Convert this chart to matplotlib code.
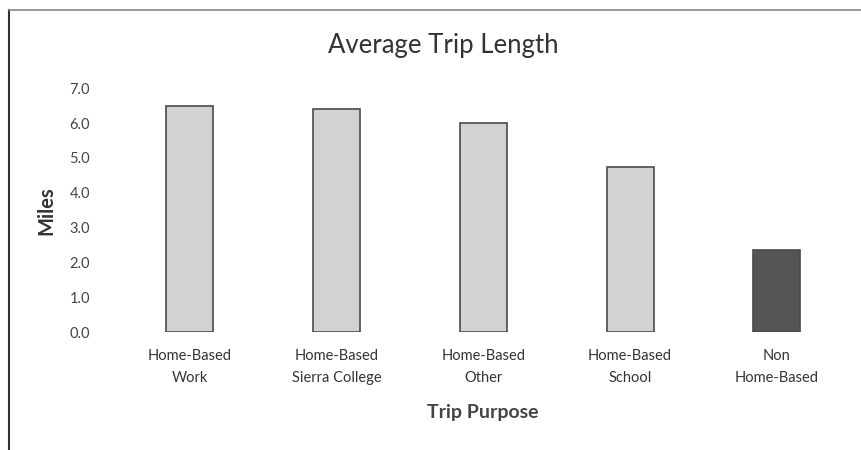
import matplotlib
matplotlib.use('Agg')
import matplotlib.pyplot as plt
from matplotlib.lines import Line2D
import numpy as np

plt.rcParams['font.family'] = ['Lato', 'DejaVu Sans']

# data
purposes = ['Home-Based\nWork', 'Home-Based\nSierra College', 'Home-Based\nOther',
            'Home-Based\nSchool', 'Non\nHome-Based']
miles = [6.5, 6.4, 6.0, 4.75, 2.35]
bar_colors = ['#d2d2d2', '#d2d2d2', '#d2d2d2', '#d2d2d2', '#555555']
yticks = [0, 1, 2, 3, 4, 5, 6, 7]

fig = plt.figure(figsize=(8.61, 4.5), dpi=100)
ax = fig.add_axes([0.135, 0.262, 0.8525, 0.542])

x = np.arange(len(purposes))
ax.bar(x, miles, width=0.32, color=bar_colors, edgecolor='#4a4a4a', linewidth=1.2)

ax.set_xlim(-0.5, len(purposes) - 0.5)
ax.set_ylim(0, 7)
ax.set_yticks(yticks)
ax.set_yticklabels(['%.1f' % v for v in yticks], fontsize=10.5, color='#444444')
ax.set_xticks(x)
ax.set_xticklabels(purposes, fontsize=10.5, color='#333333', linespacing=1.75)
ax.tick_params(length=0)
ax.tick_params(axis='y', pad=19)
ax.tick_params(axis='x', pad=12)
for s in ax.spines.values():
    s.set_visible(False)

ax.set_ylabel('Miles', fontsize=14.5, fontweight='bold', color='#333333', labelpad=9)
ax.set_xlabel('Trip Purpose', fontsize=14, fontweight='bold', color='#444444', labelpad=14)
fig.text(0.515, 0.9, 'Average Trip Length', fontsize=18.5, color='#333333',
         ha='center', va='center')

# chart frame (top and left edges visible in the crop)
fig.add_artist(Line2D([9 / 861, 9 / 861], [0, 1 - 10 / 450], color='#333333', lw=1.5))
fig.add_artist(Line2D([9 / 861, 1], [1 - 10 / 450, 1 - 10 / 450], color='#888888', lw=1.2))

fig.savefig('out.png', dpi=100)
